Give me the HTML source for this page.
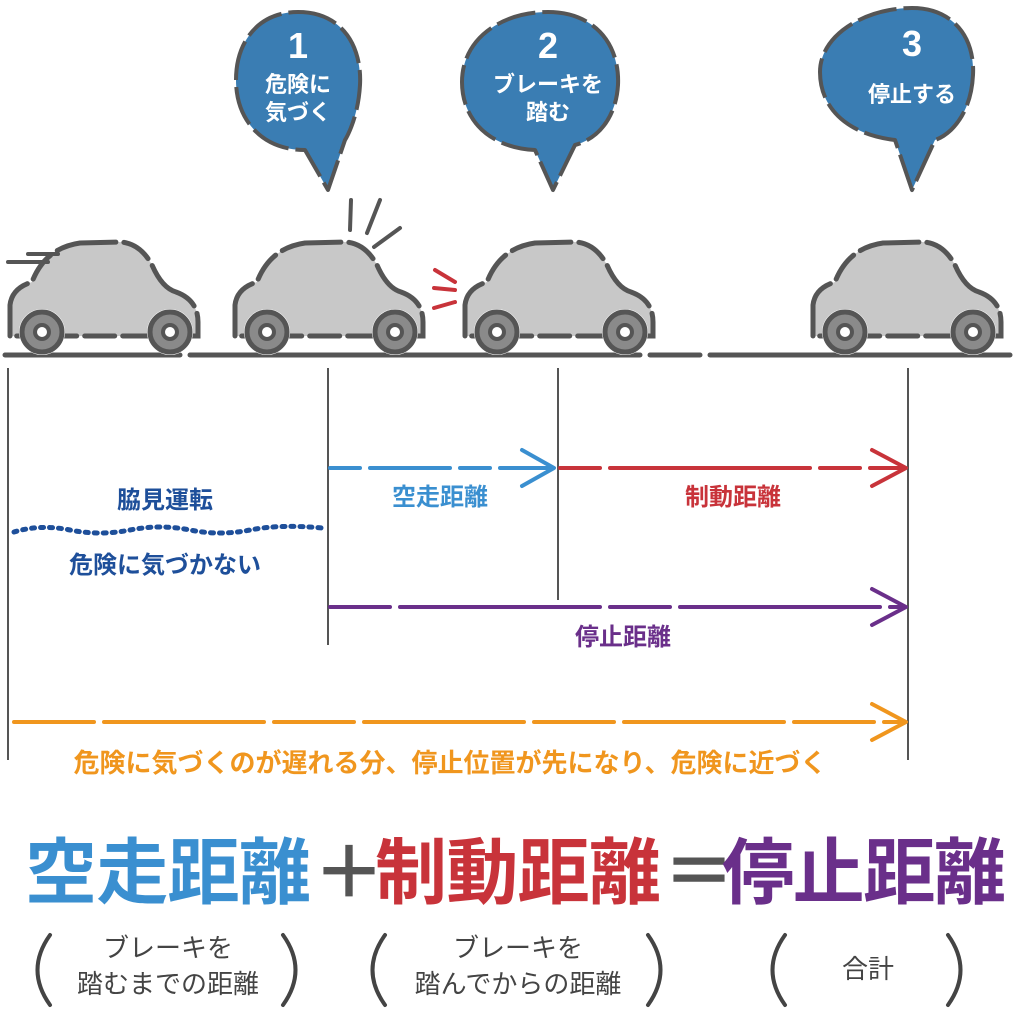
<!DOCTYPE html>
<html><head><meta charset="utf-8"><style>
body{margin:0;background:#fff;width:1016px;height:1016px;overflow:hidden;font-family:"Liberation Sans","Noto Sans CJK JP",sans-serif}
</style></head><body>
<svg width="1016" height="1016" viewBox="0 0 1016 1016" xmlns="http://www.w3.org/2000/svg" font-family="Liberation Sans, Noto Sans CJK JP, sans-serif">
<defs>
<g id="car">
<path d="M10,336 L10,305 Q12,288 32,282 Q45,248 80,243 L120,242 Q140,243 152,265 Q162,288 176,292 Q198,300 198,322 L198,336 Z" fill="#c8c8c8" stroke="#555" stroke-width="5" stroke-dasharray="60 8 30 8" stroke-linecap="round"/>
<circle cx="42" cy="332" r="23" fill="#fff"/>
<circle cx="170" cy="332" r="23" fill="#fff"/>
<circle cx="42" cy="332" r="20" fill="#8a8a8a" stroke="#555" stroke-width="5"/>
<circle cx="42" cy="332" r="7" fill="#fff" stroke="#555" stroke-width="4"/>
<circle cx="170" cy="332" r="20" fill="#8a8a8a" stroke="#555" stroke-width="5"/>
<circle cx="170" cy="332" r="7" fill="#fff" stroke="#555" stroke-width="4"/>
</g>
</defs>
<g stroke="#555" stroke-width="5" stroke-linecap="round">
<line x1="5" y1="355" x2="180" y2="355"/><line x1="190" y1="355" x2="640" y2="355"/><line x1="650" y1="355" x2="700" y2="355"/><line x1="710" y1="355" x2="1010" y2="355"/>
</g>
<use href="#car" x="0" y="0"/>
<use href="#car" x="225" y="0"/>
<use href="#car" x="455" y="0"/>
<use href="#car" x="803" y="0"/>
<g stroke="#555" stroke-width="4" stroke-linecap="round">
<line x1="8" y1="262" x2="48" y2="262"/><line x1="28" y1="254" x2="58" y2="254"/>
<line x1="351" y1="200" x2="350" y2="230"/><line x1="380" y1="200" x2="367" y2="233"/><line x1="400" y1="228" x2="374" y2="247"/>
</g>
<g stroke="#c8333a" stroke-width="4" stroke-linecap="round">
<line x1="435" y1="270" x2="455" y2="282"/><line x1="434" y1="288" x2="455" y2="290"/><line x1="434" y1="308" x2="455" y2="302"/>
</g>
<g fill="#3a7db3" stroke="#555" stroke-width="4" stroke-dasharray="40 7" stroke-linejoin="round">
<path d="M298,12 C345,12 362,50 360,85 C358,120 345,140 345,140 L328,190 L305,150 C262,150 236,120 236,80 C236,42 258,12 298,12Z"/>
<path d="M548,12 C595,12 620,45 618,85 C616,120 595,140 575,145 L553,190 L535,150 C490,148 462,120 462,82 C462,40 500,12 548,12Z"/>
<path d="M912,8 C955,8 975,40 973,75 C971,115 950,135 935,140 L912,190 L895,140 C850,135 820,110 820,72 C820,35 865,8 912,8Z"/>
</g>
<g fill="#fff" text-anchor="middle" font-weight="bold">
<text x="298" y="58" font-size="36">1</text>
<text x="298" y="92" font-size="22">危険に</text>
<text x="298" y="120" font-size="22">気づく</text>
<text x="548" y="58" font-size="36">2</text>
<text x="548" y="92" font-size="22">ブレーキを</text>
<text x="548" y="120" font-size="22">踏む</text>
<text x="912" y="56" font-size="36">3</text>
<text x="912" y="102" font-size="22">停止する</text>
</g>
<g stroke="#555" stroke-width="2">
<line x1="8" y1="368" x2="8" y2="760"/><line x1="328" y1="368" x2="328" y2="645"/><line x1="558" y1="368" x2="558" y2="600"/><line x1="908" y1="368" x2="908" y2="760"/>
</g>
<g fill="none" stroke-width="4" stroke-linecap="round" stroke-linejoin="round">
<g stroke="#3a8fd0"><path d="M330,468 H552" stroke-dasharray="30 10 80 10"/><path d="M522,450 L554,468 L522,486"/></g>
<g stroke="#c8333a"><path d="M560,468 H904" stroke-dasharray="40 10 200 10"/><path d="M872,450 L906,468 L872,486"/></g>
<g stroke="#6a2f8a"><path d="M330,607 H904" stroke-dasharray="60 10 200 10"/><path d="M872,589 L906,607 L872,625"/></g>
<g stroke="#f0961e"><path d="M14,722 H904" stroke-dasharray="80 10 160 10"/><path d="M872,704 L906,722 L872,740"/></g>
<path d="M14,532 Q40,524 70,530 T130,530 T190,530 T250,530 T322,528" stroke="#1e4f9a" stroke-width="5" stroke-dasharray="3 6"/>
</g>
<g font-weight="bold" text-anchor="middle">
<text x="165" y="508" fill="#1e4f9a" font-size="24">脇見運転</text>
<text x="165" y="573" fill="#1e4f9a" font-size="24">危険に気づかない</text>
<text x="440" y="505" fill="#3a8fd0" font-size="24">空走距離</text>
<text x="733" y="505" fill="#c8333a" font-size="24">制動距離</text>
<text x="623" y="645" fill="#6a2f8a" font-size="24">停止距離</text>
<text x="450" y="772" fill="#f0961e" font-size="26">危険に気づくのが遅れる分、停止位置が先になり、危険に近づく</text>
</g>
<g font-size="72" font-weight="bold">
<text x="25" y="898" fill="#3a8fd0" textLength="286">空走距離</text>
<text x="313" y="898" fill="#555" textLength="60">＋</text>
<text x="375" y="898" fill="#c8333a" textLength="286">制動距離</text>
<text x="663" y="898" fill="#555" textLength="60">＝</text>
<text x="722" y="898" fill="#6a2f8a" textLength="284">停止距離</text>
</g>
<g text-anchor="middle" font-size="26" fill="#444">
<text x="168" y="957">ブレーキを</text><text x="168" y="993">踏むまでの距離</text>
<text x="518" y="957">ブレーキを</text><text x="518" y="993">踏んでからの距離</text>
<text x="868" y="978">合計</text>
</g>
<g fill="none" stroke="#444" stroke-width="4" stroke-linecap="round">
<path d="M50,935 Q25,970 50,1005"/><path d="M283,935 Q308,970 283,1005"/>
<path d="M385,935 Q360,970 385,1005"/><path d="M648,935 Q673,970 648,1005"/>
<path d="M785,935 Q760,970 785,1005"/><path d="M948,935 Q973,970 948,1005"/>
</g>
</svg>
</body></html>
